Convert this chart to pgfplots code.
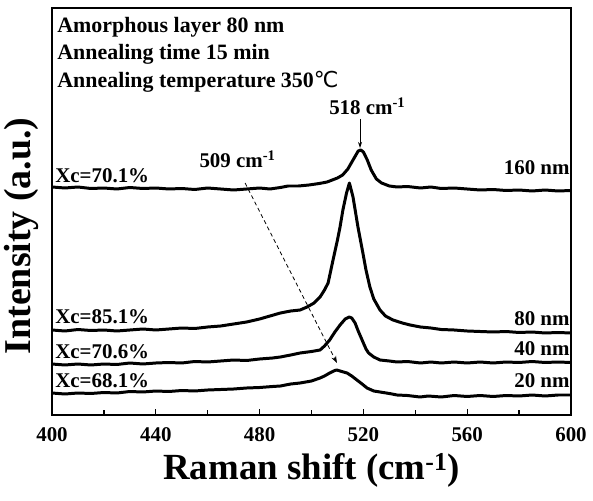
\documentclass[border=0pt]{standalone}
\usepackage{fontspec}
\setmainfont{Liberation Serif}
\newfontfamily\symfont{DejaVu Sans}
\usepackage{pgfplots}
\pgfplotsset{compat=1.18}
\usetikzlibrary{arrows.meta}

\begin{document}
\begin{tikzpicture}
\begin{axis}[
    scale only axis,
    width=519bp, height=407bp,
    xmin=400, xmax=600, ymin=0, ymax=407,
    axis line style={line width=2pt},
    xtick={400,440,...,600},
    minor x tick num=1,
    xtick pos=left,
    tick align=inside,
    major tick length=6bp, minor tick length=5bp,
    x tick style={black, line width=1.4pt},
    ytick=\empty,
    /pgf/number format/assume math mode=true,
    tick label style={font=\bfseries\fontsize{21}{24}\selectfont},
    xticklabel style={yshift=-9bp},
    xlabel={Raman shift (cm\textsuperscript{-1})},
    xlabel style={font=\bfseries\fontsize{37}{40}\selectfont, at={(axis description cs:0.5,-0.135)}, anchor=center},
    ylabel={Intensity (a.u.)},
    ylabel style={font=\bfseries\fontsize{38}{42}\selectfont, at={(axis description cs:-0.058,0.44)}, anchor=center},
    clip=false,
]
% 160 nm
\addplot[black, line width=3pt, line join=round] coordinates {
(400,228) (405,227) (410,228) (415,226.5) (420,227) (425,226) (430,227.5) (435,226.5)
(440,227) (445,226) (450,226.5) (455,225.5) (460,227) (465,226) (470,225) (475,226)
(480,227) (484,226) (488,227.5) (491,229) (495,229) (499,230) (503,231.5) (506,233)
(508,235) (510,237) (512,240) (514,246) (516,255) (518,264) (519,265) (520,263)
(521.5,255) (523,245) (525,236) (527,232) (530,229) (533,228) (537,228.5) (542,227)
(546,228) (550,226.5) (555,227) (560,226) (565,225) (570,225.5) (575,224.5) (580,225)
(585,224) (590,225) (595,224) (600,224.5)
};
% 80 nm
\addplot[black, line width=3pt, line join=round] coordinates {
(400,85) (405,84) (410,85.5) (415,84.5) (420,85) (425,84) (430,85) (435,86) (440,85)
(445,86) (450,87) (455,86.5) (460,88) (465,89) (470,91) (475,93) (480,96) (484,99)
(488,102) (492,104) (495.6,105) (498.3,108) (501,112) (503.3,118) (505,125) (506.4,132)
(508.3,155) (510,175) (511,188) (512.1,205) (513.5,222) (514.6,232) (516,218) (517.9,188)
(519.8,162) (521,145) (522.5,128) (524,116) (526.4,105) (528.5,99) (531.4,95) (535,92)
(538,90) (542,88) (546,87) (550,85.5) (555,85) (560,84) (565,83.5) (570,83) (575,83.5)
(580,82.5) (585,83) (590,82) (595,82.5) (600,82)
};
% 40 nm
\addplot[black, line width=3pt, line join=round] coordinates {
(400,51) (405,50) (410,51) (415,50) (420,51) (425,50.5) (430,52) (435,51) (440,52)
(445,52.5) (450,52) (455,53.5) (460,53) (465,54) (470,55) (475,54.5) (480,56) (485,57)
(488,58) (492,60) (495.6,62) (500,63.5) (503.3,65) (505,69) (507,75) (509,83) (511,90)
(513,96) (514.5,98) (515.5,97) (516.8,92) (518,84) (519.5,75) (521,66) (522,62) (524,58)
(526.4,55) (530,54) (533,53) (537,53.5) (542,52) (546,53) (550,52) (555,53) (560,52)
(565,53) (570,52) (575,53) (580,52.5) (585,53.5) (590,52.5) (595,53) (600,52.5)
};
% 20 nm
\addplot[black, line width=3pt, line join=round] coordinates {
(400,22) (405,21) (410,22) (415,21.5) (420,22.5) (425,22) (430,23.5) (435,23) (440,24)
(445,23.5) (450,24.5) (455,24) (460,25) (465,25.5) (470,26) (475,27) (480,27.5) (485,28.5)
(488,29) (492,31) (495.6,32) (500,34) (503.3,37) (505,39) (507,42) (509,44.5) (509.8,45)
(511,44) (513.7,42) (515.5,39) (517.5,35) (519.5,31) (521.4,27) (524,24) (526.4,23)
(530,21.5) (533,20) (537,19.5) (541.8,18) (545,19) (550,18) (555,19.5) (560,18.5)
(565,19.5) (570,18.5) (575,19.5) (580,19) (585,20) (590,19) (595,20) (600,20)
};

\begin{scope}[every node/.style={font=\bfseries\fontsize{21}{24}\selectfont, inner sep=0pt}]
\node[font=\bfseries\fontsize{22}{24}\selectfont, anchor=base west] at (axis cs:402,382) {Amorphous layer 80 nm};
\node[font=\bfseries\fontsize{22}{24}\selectfont, anchor=base west] at (axis cs:402,355) {Annealing time 15 min};
\node[font=\bfseries\fontsize{22}{24}\selectfont, anchor=base west] at (axis cs:402,327) {Annealing temperature 350{\symfont\mdseries ℃}};
\node[anchor=base west] at (axis cs:401.2,232) {Xc=70.1\%};
\node[anchor=base west] at (axis cs:401.2,92) {Xc=85.1\%};
\node[anchor=base west] at (axis cs:401.2,57) {Xc=70.6\%};
\node[anchor=base west] at (axis cs:401.2,28) {Xc=68.1\%};
\node[anchor=base east] at (axis cs:599.5,240) {160 nm};
\node[anchor=base east] at (axis cs:599.5,90) {80 nm};
\node[anchor=base east] at (axis cs:599.5,60) {40 nm};
\node[anchor=base east] at (axis cs:599.5,28) {20 nm};
\node[anchor=base] at (axis cs:521.5,300) {518 cm\textsuperscript{-1}};
\node[anchor=base] at (axis cs:471.5,247) {509 cm\textsuperscript{-1}};
\end{scope}
\draw[line width=0.8pt, -{Stealth[length=6bp,width=4bp]}] (axis cs:518.7,296) -- (axis cs:518.7,267);
\draw[line width=0.8pt, dash pattern=on 4bp off 3bp, -{Stealth[length=7bp,width=5bp]}] (axis cs:474.4,232) -- (axis cs:509.8,52);

\coordinate (bl) at (rel axis cs:0,0);
\coordinate (tr) at (rel axis cs:1,1);
\end{axis}
\pgfresetboundingbox
\path ([shift={(-52bp,-86bp)}]bl) rectangle ([shift={(22bp,8bp)}]tr);
\end{tikzpicture}
\end{document}
